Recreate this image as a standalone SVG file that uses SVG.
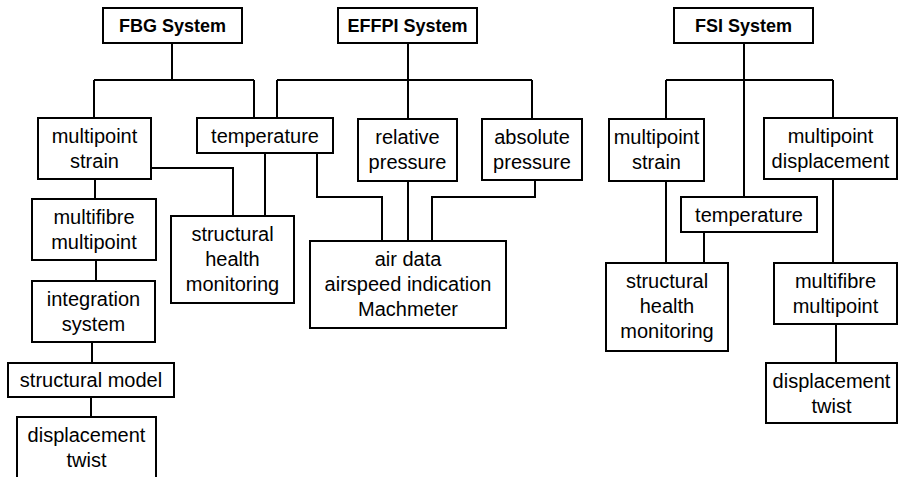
<svg xmlns="http://www.w3.org/2000/svg" width="898" height="477" viewBox="0 0 898 477">
<style>
.box{fill:#fff;stroke:#000;stroke-width:2}
.t{font-family:"Liberation Sans",Arial,sans-serif;font-size:20px;fill:#000;text-anchor:middle}
.b{font-weight:bold;font-size:18px}
.c{fill:none;stroke:#000;stroke-width:2}
</style>
<rect width="898" height="477" fill="#fff"/>
<g id="connectors" class="c">
<path d="M172,43V80M94,80H254M94,80V118M254,80V118"/>
<path d="M408,43V119M277,80H532M277,80V118M532,80V119"/>
<path d="M151,168H233V216"/>
<path d="M265,153V216"/>
<path d="M317,153V197H382V241"/>
<path d="M408,181V241"/>
<path d="M535,180V197H432V241"/>
<path d="M95,179V199"/>
<path d="M96,260V281"/>
<path d="M92,342V363"/>
<path d="M91,397V417"/>
<path d="M744,43V197M666,80H833M666,80V119M833,80V118"/>
<path d="M666,181V263"/>
<path d="M704,232V263"/>
<path d="M833,179V263"/>
<path d="M836,324V363"/>
</g>
<g id="fbg"><rect class="box" x="103" y="8" width="139" height="35"/><text class="t b" x="172.5" y="32">FBG System</text></g>
<g id="effpi"><rect class="box" x="338" y="8" width="139" height="35"/><text class="t b" x="407.5" y="32">EFFPI System</text></g>
<g id="fsi"><rect class="box" x="674" y="8" width="139" height="35"/><text class="t b" x="743.5" y="32">FSI System</text></g>
<g id="fbg_ms"><rect class="box" x="38" y="118" width="113" height="61"/><text class="t" x="94.5" y="143">multipoint</text><text class="t" x="94.5" y="168">strain</text></g>
<g id="temp"><rect class="box" x="197" y="118" width="136" height="35"/><text class="t" x="265" y="142.5">temperature</text></g>
<g id="relp"><rect class="box" x="358" y="119" width="99" height="62"/><text class="t" x="407.5" y="144">relative</text><text class="t" x="407.5" y="169">pressure</text></g>
<g id="absp"><rect class="box" x="482" y="119" width="100" height="61"/><text class="t" x="532" y="144">absolute</text><text class="t" x="532" y="169">pressure</text></g>
<g id="fbg_mf"><rect class="box" x="32" y="199" width="124" height="61"/><text class="t" x="94" y="224">multifibre</text><text class="t" x="94" y="249">multipoint</text></g>
<g id="fbg_shm"><rect class="box" x="171" y="216" width="123" height="87"/><text class="t" x="232.5" y="241">structural</text><text class="t" x="232.5" y="266">health</text><text class="t" x="232.5" y="291">monitoring</text></g>
<g id="airdata"><rect class="box" x="310" y="241" width="196" height="87"/><text class="t" x="408" y="266">air data</text><text class="t" x="408" y="291">airspeed indication</text><text class="t" x="408" y="316">Machmeter</text></g>
<g id="integ"><rect class="box" x="32" y="281" width="123" height="61"/><text class="t" x="93.5" y="306">integration</text><text class="t" x="93.5" y="331">system</text></g>
<g id="smodel"><rect class="box" x="8" y="363" width="166" height="34"/><text class="t" x="91" y="387">structural model</text></g>
<g id="fbg_dt"><rect class="box" x="17" y="417" width="139" height="62"/><text class="t" x="86.5" y="442">displacement</text><text class="t" x="86.5" y="467">twist</text></g>
<g id="fsi_ms"><rect class="box" x="609" y="119" width="95" height="62"/><text class="t" x="656.5" y="144">multipoint</text><text class="t" x="656.5" y="169">strain</text></g>
<g id="fsi_md"><rect class="box" x="764" y="118" width="133" height="61"/><text class="t" x="830.5" y="143">multipoint</text><text class="t" x="830.5" y="168">displacement</text></g>
<g id="fsi_temp"><rect class="box" x="681" y="197" width="136" height="35"/><text class="t" x="749" y="221.5">temperature</text></g>
<g id="fsi_shm"><rect class="box" x="606" y="263" width="122" height="88"/><text class="t" x="667" y="288">structural</text><text class="t" x="667" y="313">health</text><text class="t" x="667" y="338">monitoring</text></g>
<g id="fsi_mf"><rect class="box" x="774" y="263" width="123" height="61"/><text class="t" x="835.5" y="288">multifibre</text><text class="t" x="835.5" y="313">multipoint</text></g>
<g id="fsi_dt"><rect class="box" x="766" y="363" width="131" height="60"/><text class="t" x="831.5" y="388">displacement</text><text class="t" x="831.5" y="413">twist</text></g>
</svg>
